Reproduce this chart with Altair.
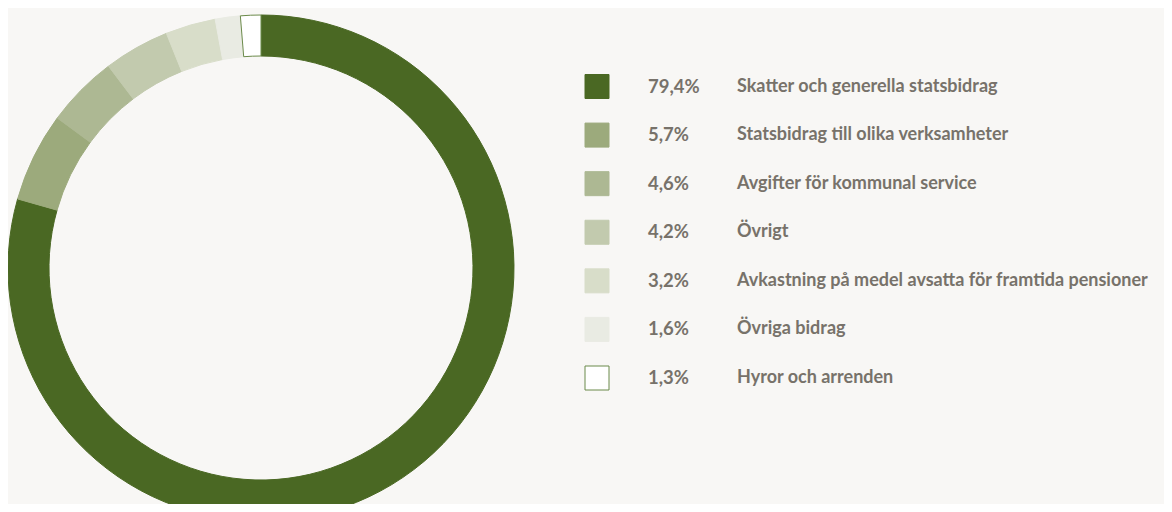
import altair as alt
import pandas as pd

labels = [
    "Skatter och generella statsbidrag",
    "Statsbidrag till olika verksamheter",
    "Avgifter för kommunal service",
    "Övrigt",
    "Avkastning på medel avsatta för framtida pensioner",
    "Övriga bidrag",
    "Hyror och arrenden",
]
values = [79.4, 5.7, 4.6, 4.2, 3.2, 1.6, 1.3]
colors = ["#4a6823", "#9caa7c", "#adb893", "#c2caae", "#d8ddc9", "#e9ebe3", "#ffffff"]
strokes = ["#4a6823", "#9caa7c", "#adb893", "#c2caae", "#d8ddc9", "#e9ebe3", "#6b8a4a"]

df = pd.DataFrame({
    "label": labels,
    "value": values,
    "idx": list(range(len(labels))),
    "pct": [f"{v:.1f}".replace(".", ",") + "%" for v in values],
})

color_scale = alt.Scale(domain=labels, range=colors)
stroke_scale = alt.Scale(domain=labels, range=strokes)
y_scale = alt.Scale(type="point", domain=labels, range=[78.5, 370], padding=0)

base = alt.Chart(df)

arc = base.mark_arc(outerRadius=253, innerRadius=212, strokeWidth=1).encode(
    theta=alt.Theta("value:Q", stack=True),
    order=alt.Order("idx:Q"),
    color=alt.Color("label:N", scale=color_scale, legend=None),
    stroke=alt.Stroke("label:N", scale=stroke_scale, legend=None),
    x=alt.value(253),
    y=alt.value(260),
)

squares = base.mark_square(size=576, strokeWidth=1, opacity=1).encode(
    x=alt.value(589),
    y=alt.Y("label:N", scale=y_scale, axis=None),
    fill=alt.Fill("label:N", scale=color_scale, legend=None),
    stroke=alt.Stroke("label:N", scale=stroke_scale, legend=None),
)

pct = base.mark_text(align="left", baseline="middle", font="Lato", fontWeight="bold",
                     fontSize=18.5, color="#77726a").encode(
    x=alt.value(640),
    y=alt.Y("label:N", scale=y_scale, axis=None),
    text="pct:N",
)

lab = base.mark_text(align="left", baseline="middle", font="Lato", fontWeight="bold",
                     fontSize=18, color="#77726a").encode(
    x=alt.value(729),
    y=alt.Y("label:N", scale=y_scale, axis=None),
    text="label:N",
)

chart = alt.layer(arc, squares, pct, lab).properties(
    width=1156, height=496,
    autosize=alt.AutoSizeParams(type="none"),
    padding=0,
).configure(background="#f8f7f5").configure_view(stroke=None)

chart.save("out.html", embed_options={"renderer": "svg", "actions": False})
